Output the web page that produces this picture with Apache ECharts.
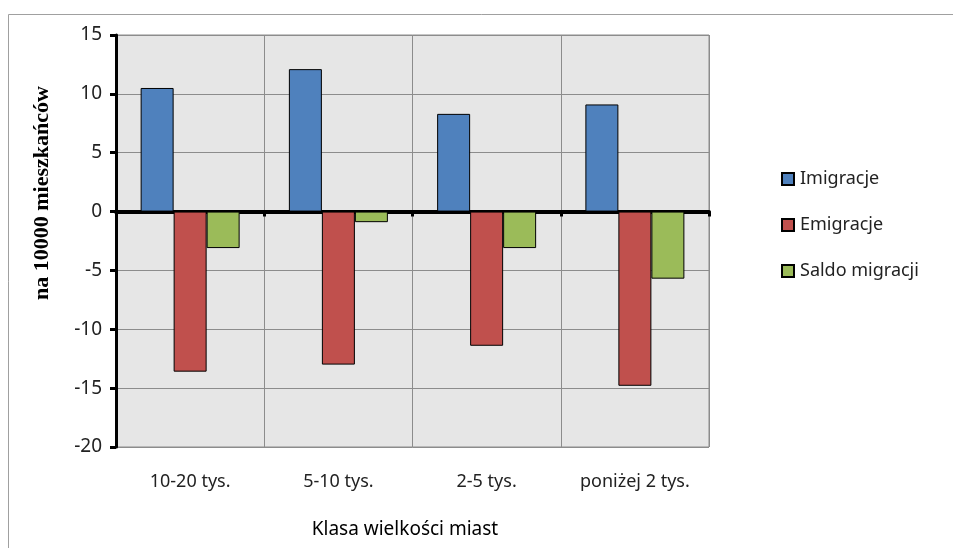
<!DOCTYPE html>
<html>
<head>
<meta charset="utf-8">
<script src="https://cdn.jsdelivr.net/npm/echarts@6/dist/echarts.min.js"></script>
<style>
  html, body { margin: 0; padding: 0; background: #fff; }
  #chart { width: 953px; height: 548px; }
</style>
</head>
<body>
<div id="chart"></div>
<script>
// Migracje na 10000 mieszkańców według klasy wielkości miast
const categories = ['10-20 tys.', '5-10 tys.', '2-5 tys.', 'poniżej 2 tys.'];
const imigracje = [10.5, 12.1, 8.3, 9.1];
const emigracje = [-13.6, -13.0, -11.4, -14.8];
const saldo = [-3.1, -0.9, -3.1, -5.7];
const seriesNames = ['Imigracje', 'Emigracje', 'Saldo migracji'];
const yTicks = { min: -20, max: 15, step: 5 };

const font = '"Noto Sans", "Open Sans", sans-serif';
const chart = echarts.init(document.getElementById('chart'), null, { renderer: 'canvas' });

const barStyle = (color) => ({ color: color, borderColor: '#000', borderWidth: 1 });

chart.setOption({
  animation: false,
  backgroundColor: '#fff',
  grid: {
    left: 116, right: 244, top: 35, bottom: 101,
    show: true, backgroundColor: '#e6e6e6', borderColor: '#8c8c8c', borderWidth: 1
  },
  legend: {
    orient: 'vertical',
    left: 776, top: 165,
    itemGap: 28,
    itemWidth: 12, itemHeight: 12,
    icon: 'rect',
    textStyle: { fontFamily: font, fontSize: 18, color: '#222', padding: [0, 0, 0, 1] },
    data: seriesNames
  },
  xAxis: [
    {
      type: 'category',
      data: categories,
      position: 'bottom',
      axisLine: { show: false, onZero: false },
      axisTick: { show: false },
      axisLabel: { margin: 26, fontFamily: font, fontSize: 18, color: '#222' },
      splitLine: { show: true, lineStyle: { color: '#8c8c8c', width: 1 } }
    },
    {
      type: 'category',
      data: categories,
      position: 'bottom',
      axisLine: { show: true, onZero: true, lineStyle: { color: '#000', width: 4 } },
      axisTick: { show: true, length: 5, lineStyle: { color: '#000', width: 3 } },
      axisLabel: { show: false },
      splitLine: { show: false }
    }
  ],
  yAxis: {
    type: 'value',
    min: yTicks.min, max: yTicks.max, interval: yTicks.step,
    axisLine: { show: true, lineStyle: { color: '#000', width: 3 } },
    axisTick: { show: true, length: 6, lineStyle: { color: '#000', width: 3 } },
    axisLabel: { margin: 14, fontFamily: font, fontSize: 19, color: '#222' },
    splitLine: { show: true, lineStyle: { color: '#8c8c8c', width: 1 } }
  },
  series: [
    { name: seriesNames[0], type: 'bar', data: imigracje, itemStyle: barStyle('#4f81bd'),
      barWidth: 33, barGap: '0%', barCategoryGap: '33%' },
    { name: seriesNames[1], type: 'bar', data: emigracje, itemStyle: barStyle('#c0504d'),
      barWidth: 33, barGap: '0%' },
    { name: seriesNames[2], type: 'bar', data: saldo, itemStyle: barStyle('#9bbb59'),
      barWidth: 33, barGap: '0%' }
  ],
  graphic: [
    {
      type: 'rect', silent: true, z: -1,
      shape: { x: 8.5, y: 14.5, width: 1000, height: 600 },
      style: { fill: 'none', stroke: '#a0a0a0', lineWidth: 1 }
    },
    {
      type: 'text', x: 42, y: 193, rotation: Math.PI / 2,
      style: {
        text: 'na 10000 mieszkańców',
        fontFamily: '"Liberation Serif", "DejaVu Serif", serif',
        fontSize: 22, fontWeight: 'bold', fill: '#000',
        textAlign: 'center', textVerticalAlign: 'middle'
      }
    },
    {
      type: 'text', x: 405, y: 530,
      style: {
        text: 'Klasa wielkości miast',
        fontFamily: font, fontSize: 19, fill: '#000',
        textAlign: 'center', textVerticalAlign: 'middle'
      }
    }
  ]
});
</script>
</body>
</html>
